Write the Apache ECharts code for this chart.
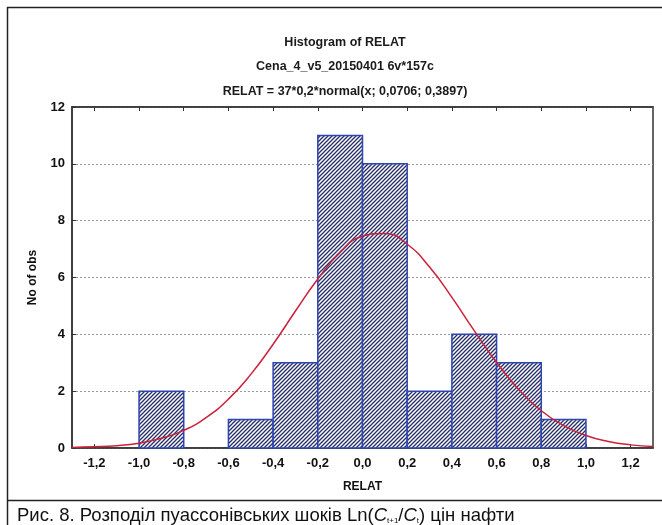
<!DOCTYPE html>
<html>
<head>
<meta charset="utf-8">
<script src="https://cdn.jsdelivr.net/npm/echarts@6/dist/echarts.min.js"></script>
<style>
  html, body { margin: 0; padding: 0; background: #fff; }
  #chart { width: 662px; height: 525px; }
</style>
</head>
<body>
<div id="chart"></div>
<script>
  // Histogram bins (RELAT), edges and counts
  const binLeft  = [-1.0, -0.6, -0.4, -0.2, 0.0, 0.2, 0.4, 0.6, 0.8]
  const binRight = [-0.8, -0.4, -0.2, 0.0, 0.2, 0.4, 0.6, 0.8, 1.0]
  const counts   = [2, 1, 3, 11, 10, 2, 4, 3, 1]

  // fitted normal curve
  const curveX = [-1.3, -1.2, -1.1, -1.0, -0.9, -0.8, -0.7, -0.6, -0.5, -0.4, -0.3, -0.2, -0.1,
    0.0, 0.1, 0.2, 0.3, 0.4, 0.5, 0.6, 0.7, 0.8, 0.9, 1.0, 1.1, 1.2, 1.3]
  const curveY = [0.02, 0.04, 0.08, 0.17, 0.34, 0.62, 1.07, 1.72, 2.59, 3.65, 4.82, 5.95, 6.88,
    7.45, 7.55, 7.17, 6.37, 5.30, 4.13, 3.01, 2.05, 1.31, 0.79, 0.44, 0.23, 0.11, 0.05]

  const xTicks = [-1.2, -1.0, -0.8, -0.6, -0.4, -0.2, 0.0, 0.2, 0.4, 0.6, 0.8, 1.0, 1.2]

  const titleLines = ['Histogram of RELAT', 'Cena_4_v5_20150401 6v*157c', 'RELAT = 37*0,2*normal(x; 0,0706; 0,3897)']

  const fmt = v => v.toFixed(1).replace('.', ',')
  const FONT = 'Liberation Sans, Arial, sans-serif'

  // diagonal hatch tile
  function hatchTile() {
    const c = document.createElement('canvas')
    c.width = 4; c.height = 4
    const ctx = c.getContext('2d')
    ctx.fillStyle = '#fff'
    ctx.fillRect(0, 0, 4, 4)
    ctx.strokeStyle = '#27306b'
    ctx.lineWidth = 1.3
    const seg = (a, b, d, e) => { ctx.beginPath(); ctx.moveTo(a, b); ctx.lineTo(d, e); ctx.stroke() }
    seg(0, 4, 4, 0)
    seg(-1, 1, 1, -1)
    seg(3, 5, 5, 3)
    return c
  }
  const hatch = { image: hatchTile(), repeat: 'repeat' }

  const chart = echarts.init(document.getElementById('chart'), null, { renderer: 'canvas' })

  const tickFont = { color: '#111', fontSize: 13, fontWeight: 'bold', fontFamily: FONT }
  const nameFont = { color: '#111', fontSize: 12, fontWeight: 'bold', fontFamily: FONT }

  chart.setOption({
    animation: false,
    backgroundColor: '#fff',
    title: titleLines.map((t, i) => ({
      text: t,
      left: 340, top: [31, 55, 80][i],
      textAlign: 'center',
      textStyle: { fontSize: 12.5, fontWeight: 'bold', color: '#1a1a1a', fontFamily: FONT },
    })),
    graphic: [
      { type: 'rect', shape: { x: 7.5, y: 7.5, width: 670, height: 540 }, style: { fill: null, stroke: '#222', lineWidth: 1.5 }, silent: true },
      { type: 'line', shape: { x1: 7.5, y1: 500.5, x2: 662, y2: 500.5 }, style: { stroke: '#222', lineWidth: 1.5 }, silent: true },
      {
        type: 'text', left: 17, top: 506, silent: true,
        style: {
          text: 'Рис. 8. Розподіл пуассонівських шоків Ln({i|C}{s|t+1}/{i|C}{s|t}) цін нафти',
          fill: '#111', fontSize: 18.5, fontFamily: FONT,
          rich: {
            i: { fontStyle: 'italic', fontSize: 18.5, fill: '#111' },
            s: { fontSize: 8, fill: '#111', verticalAlign: 'bottom', padding: [11, 0, 0, 0] },
          },
        },
      },
    ],
    grid: { left: 72, right: 9, top: 107, bottom: 77, show: true, borderColor: '#333', borderWidth: 1.5 },
    xAxis: [
      {
        type: 'value', min: -1.3, max: 1.3, position: 'bottom',
        name: 'RELAT', nameLocation: 'middle', nameGap: 33,
        nameTextStyle: nameFont,
        axisLine: { show: true, onZero: false, lineStyle: { color: '#333', width: 1.5 } },
        axisTick: { show: true, inside: true, length: 4, customValues: xTicks, lineStyle: { color: '#333' } },
        axisLabel: { ...tickFont, margin: 9, customValues: xTicks, formatter: fmt },
        splitLine: { show: false },
      },
      {
        type: 'value', min: -1.3, max: 1.3, position: 'top',
        axisLine: { show: true, onZero: false, lineStyle: { color: '#333', width: 1.5 } },
        axisTick: { show: true, inside: true, length: 4, customValues: xTicks, lineStyle: { color: '#333' } },
        axisLabel: { show: false },
        splitLine: { show: false },
      },
    ],
    yAxis: {
      type: 'value', min: 0, max: 12, interval: 2,
      name: 'No of obs', nameLocation: 'middle', nameGap: 33,
      nameTextStyle: nameFont,
      axisLine: { show: true, onZero: false, lineStyle: { color: '#333', width: 1.5 } },
      axisTick: { show: true, inside: true, length: 4, lineStyle: { color: '#333' } },
      axisLabel: { ...tickFont, margin: 7 },
      splitLine: { show: true, lineStyle: { color: '#9a9a9a', type: [2, 2], width: 1 } },
    },
    series: [
      {
        type: 'custom',
        xAxisIndex: 0,
        encode: { x: [0, 1], y: 2 },
        data: binLeft.map((l, i) => [l, binRight[i], counts[i]]),
        renderItem: (params, api) => {
          const p0 = api.coord([api.value(0), api.value(2)])
          const p1 = api.coord([api.value(1), 0])
          return {
            type: 'rect',
            shape: { x: p0[0], y: p0[1], width: p1[0] - p0[0], height: p1[1] - p0[1] },
            style: { fill: hatch, stroke: '#2d44b3', lineWidth: 1.5 },
          }
        },
        z: 2,
      },
      {
        type: 'line',
        xAxisIndex: 0,
        data: curveX.map((x, i) => [x, curveY[i]]),
        smooth: true,
        showSymbol: false,
        lineStyle: { color: '#cc2038', width: 1.5 },
        z: 3,
      },
    ],
  })
</script>
</body>
</html>
